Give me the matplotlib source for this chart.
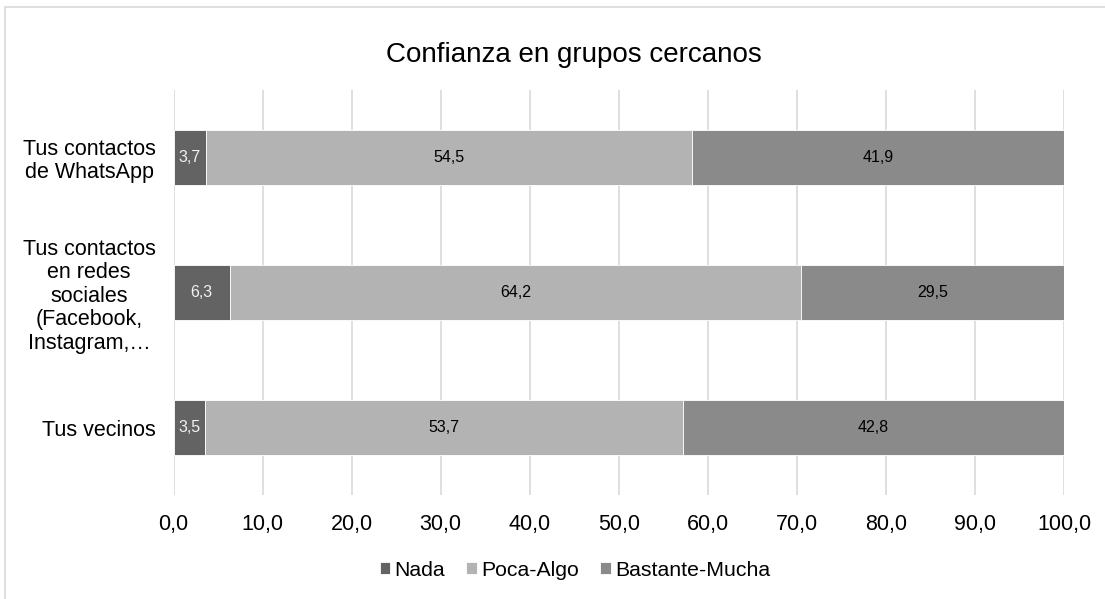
import matplotlib
matplotlib.use("Agg")
import matplotlib.pyplot as plt
from matplotlib.patches import Rectangle

plt.rcParams['font.family'] = ['Liberation Sans', 'DejaVu Sans']

categories = ["Tus contactos\nde WhatsApp",
              "Tus contactos\nen redes\nsociales\n(Facebook,\nInstagram,…",
              "Tus vecinos"]
series_names = ["Nada", "Poca-Algo", "Bastante-Mucha"]
nada = [3.7, 6.3, 3.5]
poca = [54.5, 64.2, 53.7]
bastante = [41.9, 29.5, 42.8]
xticks = [0, 10, 20, 30, 40, 50, 60, 70, 80, 90, 100]

colors = ["#636363", "#b3b3b3", "#8a8a8a"]
text_colors = ["#f2f2f2", "black", "black"]

fig = plt.figure(figsize=(11.05, 5.99), dpi=100)
ax = fig.add_axes([173.5/1105, 1-495/599, (1064-173.5)/1105, (495-90)/599])

fig.patches.append(Rectangle((4.5/1105, -0.1), 1.2, 1-7/599+0.1, transform=fig.transFigure,
                             fill=False, edgecolor="#d9d9d9", linewidth=1.2))

ypos = list(range(len(categories)))
left = [0]*len(categories)
for name, vals, c, tc in zip(series_names, [nada, poca, bastante], colors, text_colors):
    bars = ax.barh(ypos, vals, left=left, height=0.41, color=c, label=name,
                   edgecolor="white", linewidth=0.6, zorder=3)
    ax.bar_label(bars, labels=[f"{v:.1f}".replace(".", ",") for v in vals],
                 label_type="center", color=tc, fontsize=11.5)
    left = [l+v for l, v in zip(left, vals)]

ax.set_ylim(2.5, -0.5)
ax.set_xlim(0, 100)
ax.set_xticks(xticks)
ax.set_xticklabels([f"{t:.1f}".replace(".", ",") for t in xticks], fontsize=15.5)
ax.set_yticks(ypos)
ax.set_yticklabels(categories, fontsize=15.5, multialignment="center", linespacing=1.15)
ax.tick_params(axis="x", length=0, pad=14)
ax.tick_params(axis="y", length=0, pad=13)
ax.xaxis.grid(True, color="#d9d9d9", linewidth=1.2, zorder=0)
for s in ax.spines.values():
    s.set_visible(False)

fig.text(574/1105, 1-55/599, "Confianza en grupos cercanos", ha="center", va="center", fontsize=20)

fig.legend(loc="center", bbox_to_anchor=(575/1105, 1-570/599), ncol=3, frameon=False,
           fontsize=15.3, handlelength=0.5, handleheight=0.5, handletextpad=0.2, columnspacing=1.0)

fig.savefig("out.png", dpi=100)
